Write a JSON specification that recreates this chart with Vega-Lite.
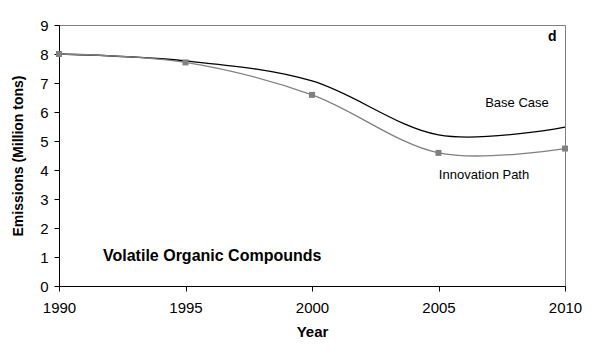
{
  "$schema": "https://vega.github.io/schema/vega-lite/v6.json",
  "width": 506,
  "height": 261,
  "autosize": "none",
  "padding": {"left": 59, "top": 25, "right": 34, "bottom": 70},
  "background": "white",
  "config": {
    "view": {"stroke": "#808080", "strokeWidth": 1},
    "font": "Liberation Sans",
    "axis": {
      "grid": false,
      "domainColor": "black",
      "tickColor": "black",
      "tickSize": 5,
      "labelFont": "Liberation Sans",
      "labelFontSize": 15,
      "labelColor": "black",
      "labelOverlap": false,
      "titleFont": "Liberation Sans",
      "titleFontSize": 14,
      "titleFontWeight": "bold",
      "titleColor": "black"
    },
    "axisY": {"tickCount": 9}
  },
  "datasets": {
    "series": [
      {"series": "Base Case", "year": 1990, "value": 8.0},
      {"series": "Base Case", "year": 1995, "value": 7.76},
      {"series": "Base Case", "year": 2000, "value": 7.07},
      {"series": "Base Case", "year": 2005, "value": 5.21},
      {"series": "Base Case", "year": 2010, "value": 5.48},
      {"series": "Innovation Path", "year": 1990, "value": 8.0},
      {"series": "Innovation Path", "year": 1995, "value": 7.71},
      {"series": "Innovation Path", "year": 2000, "value": 6.59},
      {"series": "Innovation Path", "year": 2005, "value": 4.59},
      {"series": "Innovation Path", "year": 2010, "value": 4.74}
    ],
    "seriesLabels": [
      {"label": "Base Case", "year": 2008.1, "value": 6.31},
      {"label": "Innovation Path", "year": 2006.8, "value": 3.83}
    ],
    "titleLabel": [
      {"label": "Volatile Organic Compounds", "year": 1991.74, "value": 1.03}
    ],
    "panelLabel": [
      {"label": "d", "year": 2009.5, "value": 8.6}
    ]
  },
  "encoding": {
    "x": {
      "field": "year", "type": "quantitative",
      "scale": {"domain": [1990, 2010], "nice": false, "zero": false},
      "axis": {"tickCount": 4, "format": "d", "title": "Year", "titleFontSize": 15, "labelPadding": 9, "titlePadding": 9, "labelFlush": false}
    },
    "y": {
      "field": "value", "type": "quantitative",
      "scale": {"domain": [0, 9], "nice": false},
      "axis": {"tickCount": 9, "tickMinStep": 1, "title": "Emissions (Million tons)", "labelPadding": 6, "titlePadding": 14, "labelFlush": false}
    }
  },
  "layer": [
    {
      "data": {"name": "series"},
      "mark": {"type": "line", "interpolate": "cardinal", "strokeWidth": 1.3},
      "encoding": {
        "color": {
          "field": "series", "type": "nominal",
          "scale": {"domain": ["Base Case", "Innovation Path"], "range": ["black", "#808080"]},
          "legend": null
        }
      }
    },
    {
      "data": {"name": "series"},
      "transform": [{"filter": "datum.series === 'Innovation Path'"}],
      "mark": {"type": "square", "size": 36, "filled": true, "color": "#808080", "opacity": 1}
    },
    {
      "data": {"name": "seriesLabels"},
      "mark": {"type": "text", "baseline": "middle", "align": "center", "color": "black", "fontSize": 13},
      "encoding": {"text": {"field": "label"}}
    },
    {
      "data": {"name": "titleLabel"},
      "mark": {"type": "text", "baseline": "middle", "align": "left", "color": "black", "fontSize": 16, "fontWeight": "bold"},
      "encoding": {"text": {"field": "label"}}
    },
    {
      "data": {"name": "panelLabel"},
      "mark": {"type": "text", "baseline": "middle", "align": "center", "color": "black", "fontSize": 14, "fontWeight": "bold"},
      "encoding": {"text": {"field": "label"}}
    }
  ]
}
